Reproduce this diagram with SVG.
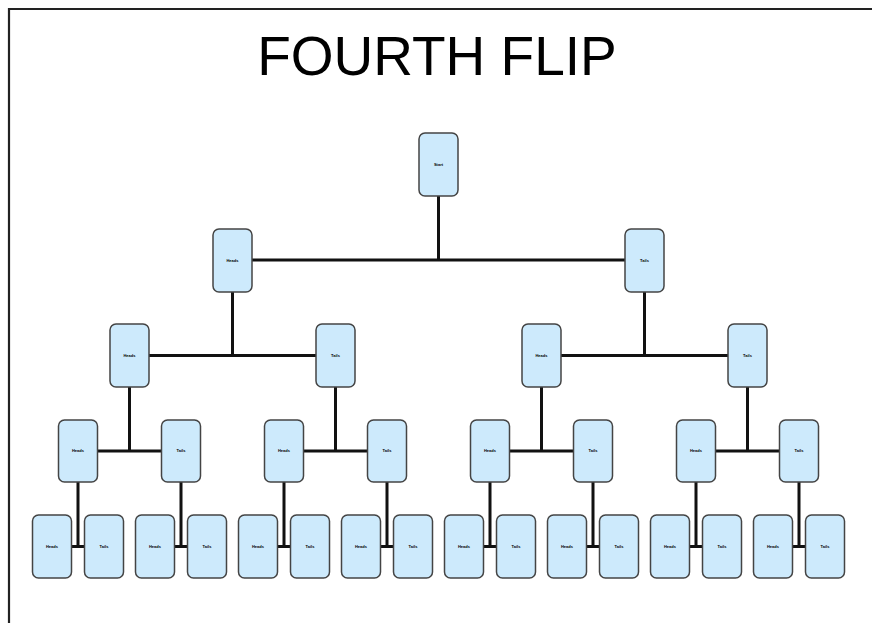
<svg xmlns="http://www.w3.org/2000/svg" width="872" height="623" viewBox="0 0 872 623">
<style>
.n rect{fill:#cdeafc;stroke:#444;stroke-width:1.5}
.n text{font-family:"Liberation Sans",Arial,sans-serif;font-size:4px;font-weight:bold;fill:#000;text-anchor:middle}
#c path{stroke:#111;stroke-width:3;fill:none}
.t{font-family:"Liberation Sans",Arial,sans-serif;font-size:55px;fill:#000;text-anchor:middle}
</style>
<rect x="0" y="0" width="872" height="623" fill="#fff"/>
<path d="M9,623 V9 H872" stroke="#222" stroke-width="2.2" fill="none"/>
<text class="t" x="437" y="75">FOURTH FLIP</text>
<g id="c">
<path d="M438.5,196 V260 M252,260 H625"/>
<path d="M232.5,292 V355.5 M149,355.5 H316 M644.5,292 V355.5 M561,355.5 H728"/>
<path d="M129.5,387 V451 M97,451 H162 M335.5,387 V451 M303,451 H368 M541.5,387 V451 M509,451 H574 M747.5,387 V451 M715,451 H780"/>
<path d="M78,482 V546.5 M71,546.5 H85 M181,482 V546.5 M174,546.5 H188 M284,482 V546.5 M277,546.5 H291 M387,482 V546.5 M380,546.5 H394 M490,482 V546.5 M483,546.5 H497 M593,482 V546.5 M586,546.5 H600 M696,482 V546.5 M689,546.5 H703 M799,482 V546.5 M792,546.5 H806"/>
</g>
<g id="root" class="n"><rect x="419" y="133" width="39" height="63" rx="6"/><text x="438.5" y="165.5">Start</text></g>
<g id="n1a" class="n"><rect x="213" y="229" width="39" height="63" rx="6"/><text x="232.5" y="261.5">Heads</text></g>
<g id="n1b" class="n"><rect x="625" y="229" width="39" height="63" rx="6"/><text x="644.5" y="261.5">Tails</text></g>
<g id="n2a" class="n"><rect x="110" y="324" width="39" height="63" rx="6"/><text x="129.5" y="356.5">Heads</text></g>
<g id="n2b" class="n"><rect x="316" y="324" width="39" height="63" rx="6"/><text x="335.5" y="356.5">Tails</text></g>
<g id="n2c" class="n"><rect x="522" y="324" width="39" height="63" rx="6"/><text x="541.5" y="356.5">Heads</text></g>
<g id="n2d" class="n"><rect x="728" y="324" width="39" height="63" rx="6"/><text x="747.5" y="356.5">Tails</text></g>
<g id="n3a" class="n"><rect x="58.5" y="420" width="39" height="62" rx="6"/><text x="78" y="452">Heads</text></g>
<g id="n3b" class="n"><rect x="161.5" y="420" width="39" height="62" rx="6"/><text x="181" y="452">Tails</text></g>
<g id="n3c" class="n"><rect x="264.5" y="420" width="39" height="62" rx="6"/><text x="284" y="452">Heads</text></g>
<g id="n3d" class="n"><rect x="367.5" y="420" width="39" height="62" rx="6"/><text x="387" y="452">Tails</text></g>
<g id="n3e" class="n"><rect x="470.5" y="420" width="39" height="62" rx="6"/><text x="490" y="452">Heads</text></g>
<g id="n3f" class="n"><rect x="573.5" y="420" width="39" height="62" rx="6"/><text x="593" y="452">Tails</text></g>
<g id="n3g" class="n"><rect x="676.5" y="420" width="39" height="62" rx="6"/><text x="696" y="452">Heads</text></g>
<g id="n3h" class="n"><rect x="779.5" y="420" width="39" height="62" rx="6"/><text x="799" y="452">Tails</text></g>
<g id="n4a" class="n"><rect x="32.5" y="515" width="39" height="63" rx="6"/><text x="52" y="547.5">Heads</text></g>
<g id="n4b" class="n"><rect x="84.5" y="515" width="39" height="63" rx="6"/><text x="104" y="547.5">Tails</text></g>
<g id="n4c" class="n"><rect x="135.5" y="515" width="39" height="63" rx="6"/><text x="155" y="547.5">Heads</text></g>
<g id="n4d" class="n"><rect x="187.5" y="515" width="39" height="63" rx="6"/><text x="207" y="547.5">Tails</text></g>
<g id="n4e" class="n"><rect x="238.5" y="515" width="39" height="63" rx="6"/><text x="258" y="547.5">Heads</text></g>
<g id="n4f" class="n"><rect x="290.5" y="515" width="39" height="63" rx="6"/><text x="310" y="547.5">Tails</text></g>
<g id="n4g" class="n"><rect x="341.5" y="515" width="39" height="63" rx="6"/><text x="361" y="547.5">Heads</text></g>
<g id="n4h" class="n"><rect x="393.5" y="515" width="39" height="63" rx="6"/><text x="413" y="547.5">Tails</text></g>
<g id="n4i" class="n"><rect x="444.5" y="515" width="39" height="63" rx="6"/><text x="464" y="547.5">Heads</text></g>
<g id="n4j" class="n"><rect x="496.5" y="515" width="39" height="63" rx="6"/><text x="516" y="547.5">Tails</text></g>
<g id="n4k" class="n"><rect x="547.5" y="515" width="39" height="63" rx="6"/><text x="567" y="547.5">Heads</text></g>
<g id="n4l" class="n"><rect x="599.5" y="515" width="39" height="63" rx="6"/><text x="619" y="547.5">Tails</text></g>
<g id="n4m" class="n"><rect x="650.5" y="515" width="39" height="63" rx="6"/><text x="670" y="547.5">Heads</text></g>
<g id="n4n" class="n"><rect x="702.5" y="515" width="39" height="63" rx="6"/><text x="722" y="547.5">Tails</text></g>
<g id="n4o" class="n"><rect x="753.5" y="515" width="39" height="63" rx="6"/><text x="773" y="547.5">Heads</text></g>
<g id="n4p" class="n"><rect x="805.5" y="515" width="39" height="63" rx="6"/><text x="825" y="547.5">Tails</text></g>
</svg>
